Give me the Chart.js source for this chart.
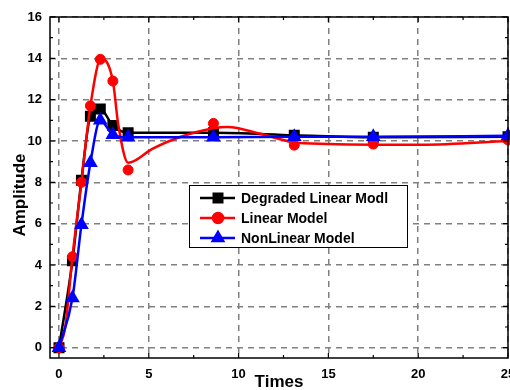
<!DOCTYPE html>
<html>
<head>
<meta charset="utf-8">
<script src="https://cdn.jsdelivr.net/npm/chart.js@4"></script>
<style>
  html, body { margin: 0; padding: 0; background: #fff; }
  #wrap { width: 510px; height: 390px; }
</style>
</head>
<body>
<div id="wrap"><canvas id="respChart" width="510" height="390"></canvas></div>
<script>
const xTicks = [0, 5, 10, 15, 20, 25];
const yTicks = [0, 2, 4, 6, 8, 10, 12, 14, 16];

// sample times where the markers sit
const markTimes = [0, 0.75, 1.25, 1.75, 2.3, 3.0, 3.85, 8.6, 13.1, 17.5, 25];
const degradedVals = [0, 4.2, 8.1, 11.2, 11.55, 10.75, 10.4, 10.4, 10.28, 10.18, 10.2];
const linearVals = [0, 4.4, 8.0, 11.7, 13.95, 12.9, 8.6, 10.85, 9.8, 9.85, 10.05];
const nonlinearVals = [0, 2.4, 5.95, 8.95, 11.0, 10.3, 10.18, 10.18, 10.2, 10.2, 10.25];

// the red curve does not go through its markers
const linearCurveT = [0, 0.35, 0.75, 1.25, 1.75, 2.35, 3.0, 3.3, 3.85, 5.2, 6.7, 8.6, 9.4, 11.2, 13.0, 15.0, 17.5, 20.2, 25];
const linearCurveY = [0, 1.0, 4.4, 8.0, 11.7, 14.0, 12.9, 10.8, 8.95, 9.62, 10.18, 10.62, 10.68, 10.35, 9.95, 9.85, 9.82, 9.82, 10.0];

const legendItems = [
    { text: "Degraded Linear Modl", color: "#000000", style: "rect" },
    { text: "Linear Model", color: "#ff0000", style: "circle" },
    { text: "NonLinear Model", color: "#0000ff", style: "triangle" },
];

const pts = (xs, ys) => xs.map((x, i) => ({ x: x, y: ys[i] }));

const FONT = "'Liberation Sans', Arial, sans-serif";

// frame, inward ticks, x labels, axis titles and legend
const framePlugin = {
    id: "framePlugin",
    afterDraw(chart) {
        const ctx = chart.ctx;
        const a = chart.chartArea;
        const xs = chart.scales.x, ys = chart.scales.y;
        ctx.save();
        ctx.strokeStyle = "#000";
        ctx.lineWidth = 1.5;
        ctx.strokeRect(a.left, a.top, a.right - a.left, a.bottom - a.top);

        ctx.lineWidth = 1.2;
        ctx.beginPath();
        for (let v = 0; v <= 25; v += 2.5) {
            const px = xs.getPixelForValue(v);
            const len = v % 5 === 0 ? 5 : 3;
            ctx.moveTo(px, a.bottom); ctx.lineTo(px, a.bottom - len);
            ctx.moveTo(px, a.top); ctx.lineTo(px, a.top + len);
        }
        for (let v = 0; v <= 16; v += 1) {
            const py = ys.getPixelForValue(v);
            const len = v % 2 === 0 ? 5 : 3;
            ctx.moveTo(a.left, py); ctx.lineTo(a.left + len, py);
            ctx.moveTo(a.right, py); ctx.lineTo(a.right - len, py);
        }
        ctx.stroke();

        ctx.fillStyle = "#000";
        ctx.textAlign = "center";
        ctx.textBaseline = "middle";

        // x tick labels
        ctx.font = "bold 13px " + FONT;
        xTicks.forEach(v => {
            ctx.fillText(String(v), xs.getPixelForValue(v), 374);
        });

        // axis titles
        ctx.font = "bold 17px " + FONT;
        ctx.fillText("Times", (a.left + a.right) / 2, 382);
        ctx.save();
        ctx.translate(20, 195);
        ctx.rotate(-Math.PI / 2);
        ctx.fillText("Amplitude", 0, 0);
        ctx.restore();

        // legend box
        const bx = 189, by = 185, bw = 218, bh = 62;
        ctx.fillStyle = "#fff";
        ctx.fillRect(bx, by, bw, bh);
        ctx.strokeStyle = "#000";
        ctx.lineWidth = 1;
        ctx.strokeRect(bx + 0.5, by + 0.5, bw, bh);
        ctx.font = "bold 14px " + FONT;
        ctx.textAlign = "left";
        legendItems.forEach((it, i) => {
            const y = by + 13 + i * 20;
            ctx.strokeStyle = it.color;
            ctx.lineWidth = 2.5;
            ctx.beginPath();
            ctx.moveTo(200, y); ctx.lineTo(235, y);
            ctx.stroke();
            ctx.fillStyle = it.color;
            const r = it.style === "circle" ? 5 : 6;
            Chart.helpers.drawPoint(ctx, { pointStyle: it.style, radius: r, borderWidth: 1 }, 218, y);
            ctx.fillStyle = "#000";
            ctx.fillText(it.text, 241, y + 1);
        });
        ctx.restore();
    }
};

new Chart("respChart", {
    type: "line",
    data: {
        datasets: [
            {
                label: "NonLinear Model",
                data: pts(markTimes, nonlinearVals),
                borderColor: "#0000ff",
                backgroundColor: "#0000ff",
                borderWidth: 2.5,
                pointStyle: "triangle",
                pointRadius: 6,
                cubicInterpolationMode: "monotone",
                order: 0,
                clip: false,
            },
            {
                label: "Linear Model",
                data: pts(markTimes, linearVals),
                showLine: false,
                borderColor: "#ff0000",
                backgroundColor: "#ff0000",
                pointStyle: "circle",
                pointRadius: 5,
                order: 1,
                clip: false,
            },
            {
                label: "Linear Model curve",
                data: pts(linearCurveT, linearCurveY),
                borderColor: "#ff0000",
                borderWidth: 2.5,
                pointRadius: 0,
                cubicInterpolationMode: "monotone",
                order: 2,
            },
            {
                label: "Degraded Linear Modl",
                data: pts(markTimes, degradedVals),
                borderColor: "#000000",
                backgroundColor: "#000000",
                borderWidth: 2.5,
                pointStyle: "rect",
                pointRadius: 6,
                cubicInterpolationMode: "monotone",
                order: 3,
                clip: false,
            },
        ]
    },
    options: {
        responsive: false,
        animation: false,
        events: [],
        layout: { autoPadding: false, padding: { top: 17, right: 2, left: 0, bottom: 0 } },
        plugins: {
            legend: { display: false },
            tooltip: { enabled: false },
        },
        scales: {
            x: {
                type: "linear",
                min: -0.5,
                max: 25,
                afterBuildTicks: (scale) => { scale.ticks = xTicks.map(v => ({ value: v })); },
                afterFit: (scale) => { scale.height = 32; },
                grid: { color: "#808080", lineWidth: 1.5, drawTicks: false },
                border: { display: false, dash: [6, 5] },
                ticks: { display: false },
            },
            y: {
                type: "linear",
                min: -0.5,
                max: 16,
                afterBuildTicks: (scale) => { scale.ticks = yTicks.map(v => ({ value: v })); },
                afterFit: (scale) => { scale.width = 50; },
                grid: { color: "#808080", lineWidth: 1.5, drawTicks: false },
                border: { display: false, dash: [6, 5] },
                ticks: {
                    color: "#000",
                    padding: 8,
                    font: { family: FONT, size: 13, weight: "bold" },
                },
            },
        },
    },
    plugins: [framePlugin],
});
</script>
</body>
</html>
